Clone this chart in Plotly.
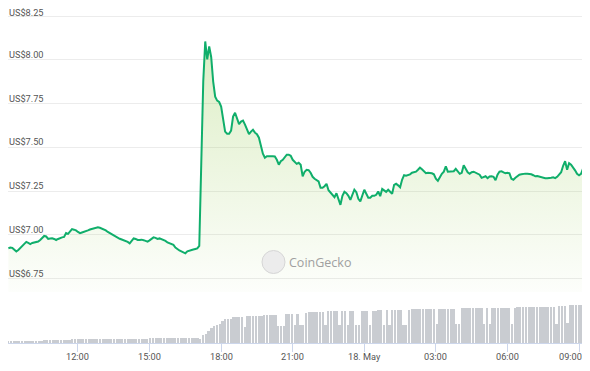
import pandas as pd
import plotly.graph_objects as go

# ---------------- data ----------------
price_start = "2024-05-17 09:05"
price_step = "5min"
prices = [
    6.924, 6.928, 6.926, 6.914, 6.906, 6.914, 6.926, 6.937, 6.948, 6.960,
    6.954, 6.948, 6.954, 6.957, 6.960, 6.962, 6.971, 6.986, 6.994, 6.991,
    6.977, 6.980, 6.981, 6.977, 6.971, 6.977, 6.983, 6.986, 6.989, 7.011,
    7.006, 7.020, 7.033, 7.030, 7.026, 7.017, 7.010, 7.014, 7.017, 7.021,
    7.026, 7.031, 7.035, 7.040, 7.043, 7.044, 7.041, 7.037, 7.033, 7.026,
    7.017, 7.010, 7.004, 6.995, 6.989, 6.983, 6.978, 6.974, 6.970, 6.966,
    6.960, 6.952, 6.966, 6.980, 6.977, 6.971, 6.971, 6.973, 6.970, 6.966,
    6.962, 6.969, 6.978, 6.986, 6.983, 6.977, 6.980, 6.975, 6.974, 6.966,
    6.957, 6.951, 6.948, 6.943, 6.928, 6.917, 6.911, 6.906, 6.900, 6.895,
    6.906, 6.911, 6.912, 6.917, 6.920, 6.923, 6.937, 7.487, 7.876, 8.105,
    8.003, 8.076, 8.015, 7.876, 7.790, 7.767, 7.759, 7.733, 7.670, 7.590,
    7.578, 7.578, 7.596, 7.676, 7.698, 7.665, 7.633, 7.647, 7.653, 7.630,
    7.607, 7.575, 7.590, 7.601, 7.584, 7.575, 7.555, 7.504, 7.464, 7.441,
    7.449, 7.449, 7.447, 7.449, 7.448, 7.429, 7.401, 7.421, 7.429, 7.444,
    7.458, 7.458, 7.452, 7.429, 7.418, 7.406, 7.412, 7.401, 7.335, 7.361,
    7.372, 7.370, 7.355, 7.332, 7.321, 7.315, 7.306, 7.269, 7.269, 7.278,
    7.292, 7.255, 7.240, 7.232, 7.215, 7.238, 7.200, 7.172, 7.223, 7.246,
    7.238, 7.223, 7.200, 7.235, 7.258, 7.244, 7.206, 7.192, 7.223, 7.258,
    7.235, 7.212, 7.212, 7.223, 7.223, 7.229, 7.248, 7.221, 7.263, 7.252,
    7.246, 7.258, 7.246, 7.235, 7.286, 7.292, 7.283, 7.272, 7.315, 7.341,
    7.338, 7.341, 7.346, 7.355, 7.358, 7.361, 7.372, 7.384, 7.375, 7.361,
    7.353, 7.355, 7.355, 7.352, 7.346, 7.321, 7.309, 7.332, 7.349, 7.361,
    7.392, 7.361, 7.362, 7.361, 7.364, 7.377, 7.361, 7.349, 7.355, 7.398,
    7.378, 7.358, 7.349, 7.358, 7.361, 7.355, 7.352, 7.344, 7.326, 7.329,
    7.335, 7.324, 7.334, 7.335, 7.332, 7.312, 7.344, 7.362, 7.364, 7.357,
    7.353, 7.355, 7.352, 7.321, 7.315, 7.326, 7.338, 7.344, 7.346, 7.349,
    7.350, 7.349, 7.348, 7.346, 7.341, 7.335, 7.336, 7.332, 7.329, 7.325,
    7.324, 7.324, 7.323, 7.326, 7.329, 7.324, 7.332, 7.346, 7.358, 7.395,
    7.421, 7.372, 7.410, 7.401, 7.387, 7.369, 7.349, 7.341, 7.349, 7.378, 7.387,
]

volume_start = "2024-05-17 09:05"
volume_step = "7min"
volumes = [
    0.7, 0.7, 0.7, 0.7, 0.7, 0.7, 0.7, 0.7, 0.7, 0.7,
    0.7, 0.7, 0.7, 1.0, 1.0, 1.0, 1.0, 1.0, 1.0, 1.0,
    1.0, 1.0, 1.0, 1.2, 1.2, 1.2, 1.2, 1.2, 1.2, 1.2,
    1.2, 1.2, 1.2, 1.2, 1.2, 1.2, 1.2, 1.2, 1.2, 1.2,
    1.2, 1.2, 1.2, 1.2, 1.2, 1.2, 1.2, 1.2, 1.2, 1.2,
    1.2, 1.4, 1.4, 1.4, 1.4, 1.4, 1.4, 1.4, 1.4, 1.4,
    1.4, 1.4, 1.4, 1.4, 1.4, 1.4, 1.4, 1.4, 1.4, 1.35,
    2.4, 2.7, 3.6, 4.5, 5.1, 5.5, 5.7, 6.7, 7.2, 7.3,
    7.35, 7.7, 7.7, 7.7, 7.7, 4.7, 8.0, 8.0, 8.0, 8.0,
    8.0, 8.0, 8.3, 8.5, 8.5, 8.5, 8.5, 5.0, 5.0, 5.0,
    8.7, 8.7, 8.7, 5.3, 8.7, 5.3, 5.3, 9.0, 9.3, 9.3,
    9.3, 9.3, 9.3, 9.3, 5.5, 9.5, 9.5, 9.5, 9.5, 5.4,
    9.7, 9.7, 5.4, 9.7, 9.7, 5.4, 5.4, 9.7, 9.7, 9.7,
    5.4, 9.7, 9.7, 10.0, 10.0, 5.4, 10.0, 5.4, 10.0, 10.0,
    10.0, 10.0, 5.5, 5.5, 10.05, 10.2, 10.2, 10.2, 10.2, 10.2,
    10.2, 10.2, 10.2, 10.2, 5.6, 10.2, 10.2, 10.2, 10.2, 10.2,
    10.2, 5.6, 5.6, 10.5, 10.5, 10.5, 10.5, 10.5, 10.5, 10.5,
    10.5, 5.7, 10.5, 5.7, 10.5, 10.5, 10.5, 10.5, 10.5, 10.5,
    10.5, 5.7, 10.65, 10.7, 10.7, 10.7, 10.7, 10.7, 10.7, 10.7,
    10.7, 10.7, 10.7, 10.7, 10.7, 10.7, 10.7, 5.7, 11.0, 11.0,
    11.0, 6.0, 11.3, 11.3, 11.3, 11.3, 11.3, 11.3,
]

x_tick_vals = ["2024-05-17 12:00", "2024-05-17 15:00", "2024-05-17 18:00",
               "2024-05-17 21:00", "2024-05-18 00:00", "2024-05-18 03:00",
               "2024-05-18 06:00", "2024-05-18 09:00"]
x_tick_text = ["12:00", "15:00", "18:00", "21:00", "18. May", "03:00", "06:00", "09:00"]
y_tick_vals = [6.75, 7.00, 7.25, 7.50, 7.75, 8.00, 8.25]
y_tick_text = ["US$6.75", "US$7.00", "US$7.25", "US$7.50", "US$7.75", "US$8.00", "US$8.25"]

x_range = ["2024-05-17 09:04", "2024-05-18 09:15"]
price_range = [6.674, 8.296]
volume_range = [0, 12.9]

# ---------------- figure ----------------
# the page body has an 8px margin, so the figure is drawn 8px in from the
# top-left corner of the window; size it to fill the rest of the window
OFF = 8
W, H = 590 - OFF, 371 - OFF


def fy(px):
    return 1 - (px - OFF) / H


def fx(px):
    return (px - OFF) / W


price_times = pd.date_range(price_start, periods=len(prices), freq=price_step)
volume_times = pd.date_range(volume_start, periods=len(volumes), freq=volume_step)

LINE = "#10ae6b"
AXIS_FONT = dict(family="Roboto, sans-serif", size=9.2, color="#555555")

fig = go.Figure()
fig.add_trace(go.Scatter(
    x=price_times, y=prices, mode="lines",
    line=dict(color=LINE, width=2),
    fill="tozeroy",
    fillgradient=dict(type="vertical",
                      colorscale=[[0, "rgba(141,198,63,0.02)"],
                                  [1, "rgba(141,198,63,0.30)"]],
                      start=6.674, stop=8.1),
    xaxis="x", yaxis="y", hoverinfo="skip",
))
fig.add_trace(go.Bar(
    x=volume_times, y=volumes,
    marker=dict(color="#c9ccd1", line_width=0),
    width=4.6 * 60 * 1000,
    xaxis="x2", yaxis="y2", hoverinfo="skip",
))

annotations = []
# y-axis labels sit just above their grid lines, left-aligned
# (the top one is nudged down to stay inside the chart)
for i, (v, t) in enumerate(zip(y_tick_vals, y_tick_text)):
    top = i == len(y_tick_vals) - 1
    annotations.append(dict(
        text=t, xref="paper", yref="y", x=fx(8), y=v,
        xanchor="left", yanchor="bottom", xshift=-1, yshift=-4 if top else -2,
        showarrow=False, font=AXIS_FONT))
# x-axis labels (the last one is kept inside the chart, right-aligned)
for i, (v, t) in enumerate(zip(x_tick_vals, x_tick_text)):
    last = i == len(x_tick_vals) - 1
    annotations.append(dict(
        text=t, xref="x2", yref="paper", x=v, y=fy(356),
        xanchor="right" if last else "center", yanchor="middle",
        xshift=5 if last else 0,
        showarrow=False, font=AXIS_FONT))
annotations.append(dict(
    text="CoinGecko", xref="paper", yref="paper",
    x=fx(287), y=fy(262), xanchor="left", yanchor="middle",
    showarrow=False,
    font=dict(family="Open Sans, sans-serif", size=12.5, color="#a0a0a0")))

fig.update_layout(
    width=W, height=H,
    margin=dict(l=0, r=0, t=0, b=0),
    paper_bgcolor="white", plot_bgcolor="white",
    showlegend=False,
    bargap=0,
    xaxis=dict(domain=[fx(8), fx(585)], range=x_range, type="date",
               showticklabels=False, showgrid=False, zeroline=False,
               showline=False, anchor="y"),
    yaxis=dict(domain=[fy(292), fy(8)], range=price_range,
               tickvals=y_tick_vals, showticklabels=False,
               gridcolor="#ececec", gridwidth=1, zeroline=False,
               showline=False, ticks="", anchor="x"),
    xaxis2=dict(domain=[fx(8), fx(585)], range=x_range, type="date",
                tickvals=x_tick_vals, showticklabels=False,
                ticks="outside", ticklen=8, tickcolor="#ccd6eb", tickwidth=1,
                showline=True, linecolor="#ccd6eb", linewidth=1,
                showgrid=False, zeroline=False, anchor="y2"),
    yaxis2=dict(domain=[fy(343), fy(300)], range=volume_range,
                visible=False, anchor="x2"),
    shapes=[
        dict(type="circle", xref="paper", yref="paper",
             x0=fx(262), x1=fx(285), y0=fy(273.5), y1=fy(250.5),
             fillcolor="#ececec", line=dict(color="#d6d6d6", width=1),
             layer="above"),
    ],
    annotations=annotations,
)

fig.write_html("out.html")
